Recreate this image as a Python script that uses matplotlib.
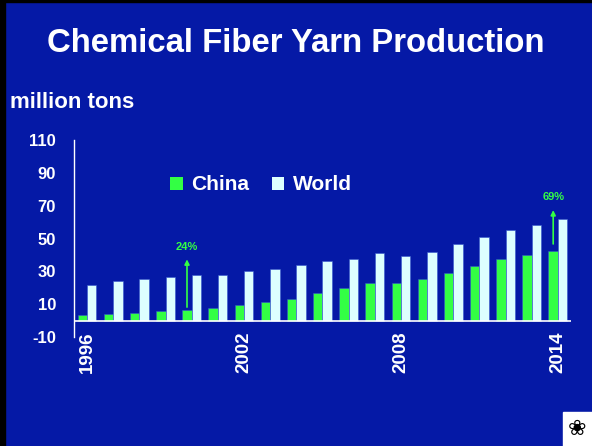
import numpy as np
import matplotlib.pyplot as plt
from matplotlib.patches import Rectangle

plt.rcParams['font.family'] = ['Liberation Sans', 'DejaVu Sans']
plt.rcParams['font.weight'] = 'bold'

years = list(range(1996, 2015))
china = [3.3, 3.9, 4.9, 5.9, 6.5, 7.9, 9.8, 11.4, 13.4, 17.1, 19.7, 23.0, 23.0,
         25.6, 28.9, 33.1, 37.4, 40.0, 42.7]
world = [21.7, 24.4, 25.4, 26.4, 28.0, 28.0, 30.3, 31.3, 33.9, 36.0, 37.6, 41.3,
         39.2, 41.9, 46.5, 50.8, 55.3, 58.3, 61.6]
tick_years = [1996, 2002, 2008, 2014]
y_ticks = [-10, 10, 30, 50, 70, 90, 110]

bg = '#0519A6'
green = '#33FF44'
light = '#DDFFFF'

fig = plt.figure(figsize=(5.92, 4.46), dpi=100, facecolor=bg)
# black border strips on the left and top
fig.patches.append(Rectangle((0, 0), 5 / 592, 1, transform=fig.transFigure,
                             color='black', zorder=0))
fig.patches.append(Rectangle((0, 1 - 2 / 446), 1, 2 / 446, transform=fig.transFigure,
                             color='black', zorder=0))

ax = fig.add_axes([0.125, 0.2444, 0.8395, 0.4416])
ax.set_facecolor(bg)

x = np.arange(len(years))
w = 0.36
ax.bar(x - w / 2, china, w, color=green, edgecolor='#3355cc', linewidth=0.4, label='China')
ax.bar(x + w / 2, world, w, color=light, edgecolor='#3355cc', linewidth=0.4, label='World')

ax.set_xlim(-0.5, 18.5)
ax.set_ylim(-10, 110)
ax.axhline(0, color='white', linewidth=1.2)

for s in ['top', 'right', 'bottom']:
    ax.spines[s].set_visible(False)
ax.spines['left'].set_color('white')
ax.spines['left'].set_linewidth(1)

ax.set_yticks(y_ticks)
ax.set_yticklabels([str(v) for v in y_ticks])
ax.tick_params(axis='y', length=0, pad=13, labelcolor='white', labelsize=12)

ax.set_xticks([years.index(yr) for yr in tick_years])
ax.set_xticklabels([str(yr) for yr in tick_years], rotation=90, va='top')
ax.tick_params(axis='x', length=0, pad=-4, labelcolor='white', labelsize=13.5)

# growth annotations
i0 = years.index(2000)
ax.annotate('', xy=(i0 - w / 2, 39), xytext=(i0 - w / 2, china[i0]),
            arrowprops=dict(arrowstyle='-|>', color=green, lw=1.2, mutation_scale=7))
ax.text(i0 - w / 2, 42, '24%', color=green, fontsize=8, ha='center', va='bottom')
i1 = years.index(2014)
ax.annotate('', xy=(i1 - w / 2, 69), xytext=(i1 - w / 2, 45),
            arrowprops=dict(arrowstyle='-|>', color=green, lw=1.2, mutation_scale=7))
ax.text(i1 - w / 2, 72, '69%', color=green, fontsize=8, ha='center', va='bottom')

leg = ax.legend(loc='center', bbox_to_anchor=(261 / 592, 1 - 185 / 446),
                bbox_transform=fig.transFigure, ncol=2, frameon=False,
                fontsize=15, handlelength=0.6, handleheight=0.6,
                handletextpad=0.4, columnspacing=1.1)
for t in leg.get_texts():
    t.set_color('white')
for h in leg.legend_handles:
    h.set_linewidth(0)

fig.text(0.5, 1 - 43 / 446, 'Chemical Fiber Yarn Production', color='white',
         fontsize=23.7, ha='center', va='center')
fig.text(10 / 592, 1 - 103 / 446, 'million tons', color='white',
         fontsize=16, ha='left', va='center')

# small cotton logo box in the corner
fig.patches.append(Rectangle((563 / 592, 0), 29 / 592, 34 / 446, transform=fig.transFigure,
                             color='white', zorder=1))
fig.text(577 / 592, 17 / 446, '\u2740', color='black', fontsize=16,
         ha='center', va='center', family='DejaVu Sans', zorder=2)

fig.savefig('out.png', dpi=100, facecolor=bg)
